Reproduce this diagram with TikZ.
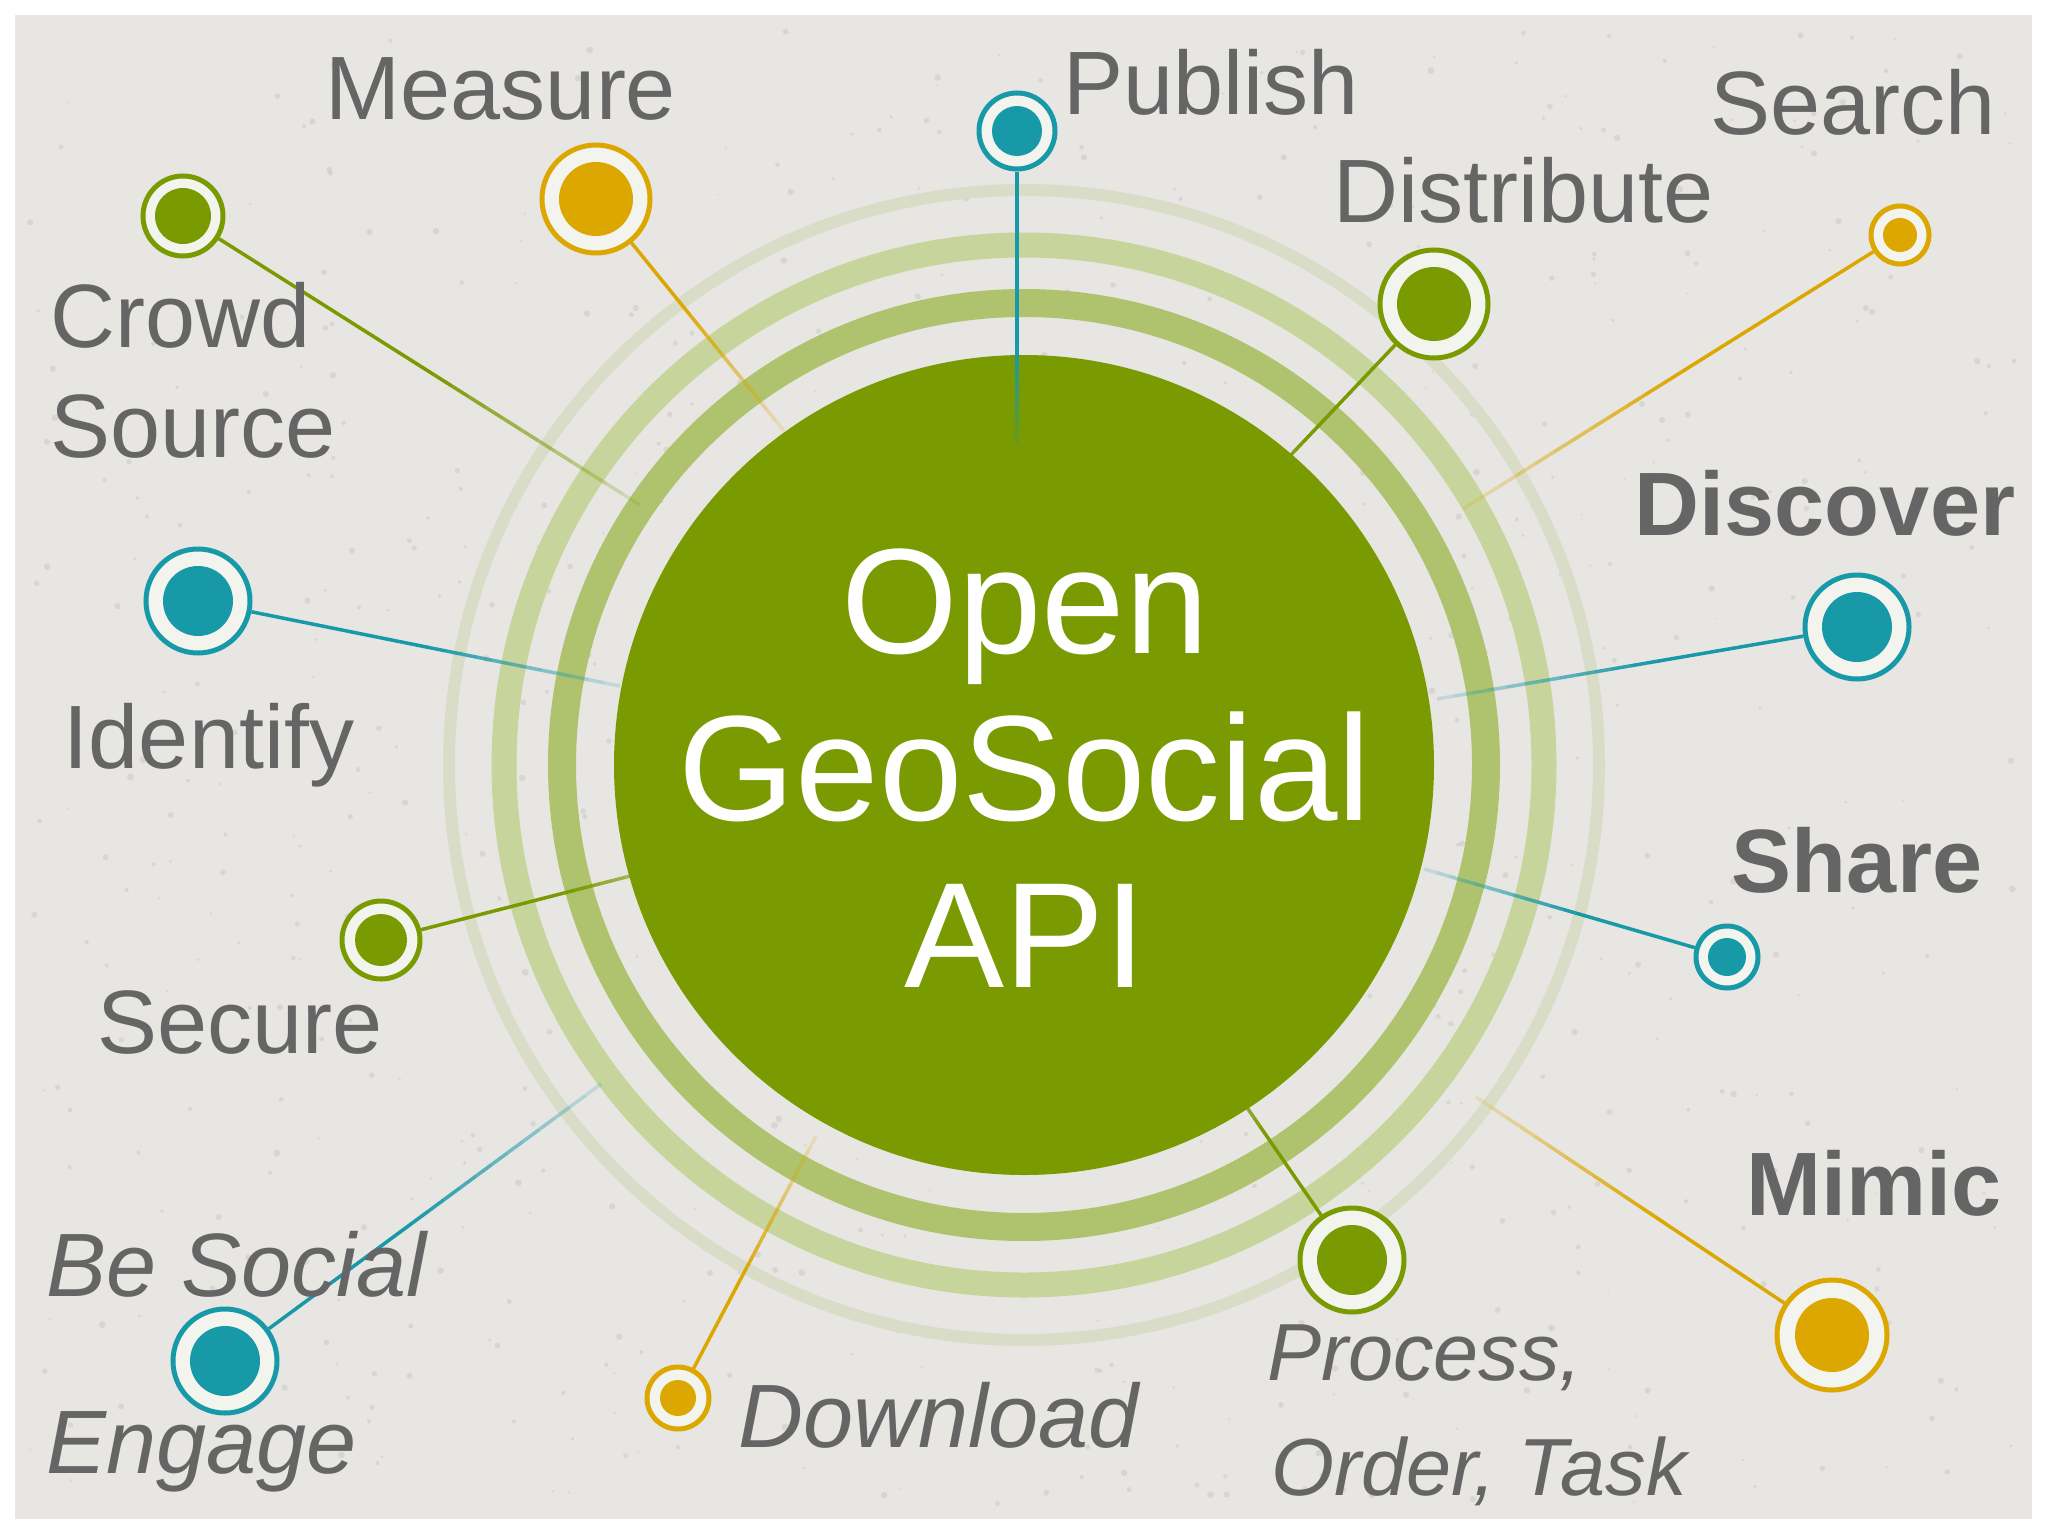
\documentclass[tikz,border=0pt]{standalone}
\usepackage{fontspec}
\setmainfont{Liberation Sans}
\usetikzlibrary{calc}
\definecolor{ogreen}{HTML}{7A9A01}
\definecolor{ogold}{HTML}{DBA700}
\definecolor{oteal}{HTML}{1899A8}
\definecolor{ringA}{HTML}{AFC36E}
\definecolor{ringB}{HTML}{C7D49C}
\definecolor{ringC}{HTML}{D9DCC6}
\definecolor{paper}{HTML}{E8E6E3}
\definecolor{speck}{HTML}{C9C6C2}
\definecolor{txt}{HTML}{656565}
\definecolor{gapw}{HTML}{F4F4EF}
\newcommand{\fadeline}[4]{%
  \draw[#1] (#2) -- ($(#2)!#4!(#3)$);
  \foreach \k in {0,...,11}{%
    \pgfmathsetmacro{\ta}{#4+(1-#4)*\k/12}%
    \pgfmathsetmacro{\tb}{#4+(1-#4)*(\k+1)/12}%
    \pgfmathsetmacro{\op}{1-0.85*(\k+0.5)/12}%
    \draw[#1, opacity=\op] ($(#2)!\ta!(#3)$) -- ($(#2)!\tb!(#3)$);
  }%
}
\tikzset{
  ringnode/.style 2 args={circle, draw=#1, line width=5pt, fill=gapw, minimum size=#2, inner sep=0pt},
  dotnode/.style 2 args={circle, fill=#1, minimum size=#2, inner sep=0pt},
  lk/.style={draw=#1, line width=3.5pt, line cap=butt},
  lab/.style={text=txt, font=\fontsize{90}{100}\selectfont, inner sep=0pt},
  labb/.style={lab, font=\fontsize{90}{100}\selectfont\bfseries},
  labi/.style={lab, font=\fontsize{90}{100}\selectfont\itshape},
  labis/.style={lab, font=\fontsize{81}{90}\selectfont\itshape},
}
\begin{document}
\begin{tikzpicture}[x=1pt,y=-1pt]
% background
\fill[white] (0,0) rectangle (2048,1536);
\fill[paper] (15,15) rectangle (2032,1519);
\pgfmathsetseed{7}
\foreach \q in {1,...,700}{%
  \pgfmathsetmacro{\px}{30+rnd*1985}%
  \pgfmathsetmacro{\py}{30+rnd*1475}%
  \pgfmathsetmacro{\pr}{1+rnd*2.5}%
  \fill[speck, opacity=0.5] (\px,\py) circle[radius=\pr pt];
}
\useasboundingbox (0,0) rectangle (2048,1536);
% rings
\coordinate (C) at (1024,765);
\draw[ringC, line width=12pt] (C) circle[radius=575pt];
\draw[ringB, line width=25pt] (C) circle[radius=520pt];
\draw[ringA, line width=28pt] (C) circle[radius=462pt];
\node[circle, fill=ogreen, minimum size=820pt, inner sep=0pt] (core) at (C) {};
% end coordinates
\coordinate (eCrowd) at (640,505);
\coordinate (eMeasure) at (784,431);
\coordinate (ePublish) at (1017,444);
\coordinate (eDistribute) at (1215,535);
\coordinate (eSearch) at (1463,509);
\coordinate (eDiscover) at (1437,699);
\coordinate (eShare) at (1424,869);
\coordinate (eMimic) at (1476,1097);
\coordinate (eProcess) at (1195,1032);
\coordinate (eDownload) at (816,1136);
\coordinate (eEngage) at (601,1084);
\coordinate (eSecure) at (712,855);
\coordinate (eIdentify) at (620,686);
% ring nodes
\node[ringnode={ogreen}{80pt}] (nCrowd) at (183,216) {};
\node[ringnode={ogold}{108pt}] (nMeasure) at (596,199) {};
\node[ringnode={oteal}{76pt}] (nPublish) at (1017,131) {};
\node[ringnode={ogreen}{108pt}] (nDistribute) at (1434,304) {};
\node[ringnode={ogold}{58pt}] (nSearch) at (1900,235) {};
\node[ringnode={oteal}{104pt}] (nDiscover) at (1857,627) {};
\node[ringnode={oteal}{62pt}] (nShare) at (1727,957) {};
\node[ringnode={ogold}{110pt}] (nMimic) at (1832,1335) {};
\node[ringnode={ogreen}{104pt}] (nProcess) at (1352,1260) {};
\node[ringnode={ogold}{62pt}] (nDownload) at (678,1398) {};
\node[ringnode={oteal}{104pt}] (nEngage) at (225,1361) {};
\node[ringnode={ogreen}{78pt}] (nSecure) at (381,940) {};
\node[ringnode={oteal}{104pt}] (nIdentify) at (198,601) {};
% connectors
\fadeline{lk=ogreen}{nCrowd}{eCrowd}{0.55}
\fadeline{lk=ogold}{nMeasure}{eMeasure}{0.45}
\fadeline{lk=oteal}{nPublish}{ePublish}{0.7}
\fadeline{lk=ogreen}{nDistribute}{eDistribute}{0.6}
\fadeline{lk=ogold}{nSearch}{eSearch}{0.5}
\fadeline{lk=oteal}{nDiscover}{eDiscover}{0.5}
\fadeline{lk=oteal}{nShare}{eShare}{0.5}
\fadeline{lk=ogold}{nMimic}{eMimic}{0.5}
\fadeline{lk=ogreen}{nProcess}{eProcess}{0.55}
\fadeline{lk=ogold}{nDownload}{eDownload}{0.45}
\fadeline{lk=oteal}{nEngage}{eEngage}{0.5}
\fadeline{lk=ogreen}{nSecure}{eSecure}{0.55}
\fadeline{lk=oteal}{nIdentify}{eIdentify}{0.55}
% dots
\node[dotnode={ogreen}{56pt}] (dCrowd) at (nCrowd) {};
\node[dotnode={ogold}{74pt}] (dMeasure) at (nMeasure) {};
\node[dotnode={oteal}{50pt}] (dPublish) at (nPublish) {};
\node[dotnode={ogreen}{74pt}] (dDistribute) at (nDistribute) {};
\node[dotnode={ogold}{34pt}] (dSearch) at (nSearch) {};
\node[dotnode={oteal}{70pt}] (dDiscover) at (nDiscover) {};
\node[dotnode={oteal}{38pt}] (dShare) at (nShare) {};
\node[dotnode={ogold}{74pt}] (dMimic) at (nMimic) {};
\node[dotnode={ogreen}{70pt}] (dProcess) at (nProcess) {};
\node[dotnode={ogold}{36pt}] (dDownload) at (nDownload) {};
\node[dotnode={oteal}{70pt}] (dEngage) at (nEngage) {};
\node[dotnode={ogreen}{52pt}] (dSecure) at (nSecure) {};
\node[dotnode={oteal}{70pt}] (dIdentify) at (nIdentify) {};
% central text
\node[text=white, align=center, inner sep=0pt, font=\fontsize{150}{167}\selectfont] (title) at (1025,768) {Open\\GeoSocial\\API};
% labels
\node[lab, anchor=base] (tMeasure) at (501,120) {Measure};
\node[lab, anchor=base] (tPublish) at (1211,115) {Publish};
\node[lab, anchor=base] (tSearch) at (1853,135) {Search};
\node[lab, anchor=base] (tDistribute) at (1524,222) {Distribute};
\node[lab, anchor=base west] (tCrowd) at (50,347) {Crowd};
\node[lab, anchor=base west] (tSource) at (50,457) {Source};
\node[labb, anchor=base] (tDiscover) at (1825,535) {Discover};
\node[lab, anchor=base] (tIdentify) at (209,768) {Identify};
\node[labb, anchor=base] (tShare) at (1857,892) {Share};
\node[lab, anchor=base] (tSecure) at (240,1053) {Secure};
\node[labb, anchor=base] (tMimic) at (1874,1215) {Mimic};
\node[labi, anchor=base west] (tBeSocial) at (46,1296) {Be Social};
\node[labi, anchor=base west] (tEngage) at (46,1473) {Engage};
\node[labi, anchor=base] (tDownload) at (939,1447) {Download};
\node[labis, anchor=base west] (tProcess) at (1267,1380) {Process,};
\node[labis, anchor=base west] (tOrder) at (1271,1495) {Order, Task};
\end{tikzpicture}
\end{document}
